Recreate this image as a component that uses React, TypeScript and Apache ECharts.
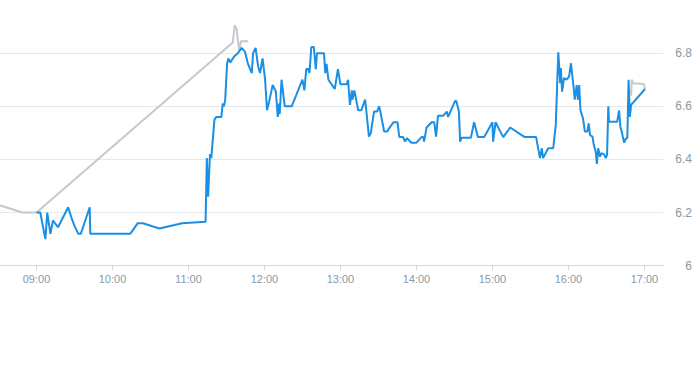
import React, { useEffect, useRef } from "react";
import * as echarts from "echarts";

// Times (HH:MM or HH:MM:SS) and prices of the intraday line
const priceTimes = [
  "09:00", "09:03", "09:07", "09:08:30", "09:11", "09:13", "09:17", "09:25", "09:28", "09:30",
  "09:33", "09:35", "09:42", "09:42:30", "10:14", "10:20", "10:24", "10:37", "10:55", "11:13:30",
  "11:14:30", "11:15:30", "11:17", "11:18", "11:20:30", "11:22", "11:26", "11:27", "11:28", "11:29",
  "11:30:30", "11:31:30", "11:33", "11:36", "11:39", "11:42", "11:44:30", "11:47", "11:50", "11:51",
  "11:53", "11:55", "11:56:30", "11:58:30", "12:00:30", "12:02", "12:04", "12:06:30", "12:09", "12:10:30",
  "12:11:30", "12:12", "12:13:30", "12:16", "12:21:30", "12:30", "12:31:30", "12:33", "12:34:30", "12:35:30",
  "12:37", "12:39", "12:40:30", "12:41:30", "12:47", "12:48", "12:49", "12:50:30", "12:55:30", "12:58",
  "13:00", "13:05", "13:06", "13:07:30", "13:09", "13:09:30", "13:11", "13:14", "13:16:30", "13:19:30",
  "13:22:30", "13:24", "13:26:30", "13:29", "13:30:30", "13:31:30", "13:34:30", "13:37", "13:38:30", "13:42",
  "13:45", "13:46:30", "13:49:30", "13:51", "13:52:30", "13:56", "14:00", "14:04", "14:05:30", "14:06",
  "14:08", "14:12", "14:14", "14:15:30", "14:17", "14:21", "14:24", "14:25", "14:28", "14:30:30",
  "14:31:30", "14:33:30", "14:34:30", "14:35:30", "14:43", "14:45:30", "14:48:30", "14:53:30", "15:00", "15:00:30",
  "15:02:30", "15:08:30", "15:14", "15:25:30", "15:34:30", "15:37:30", "15:39", "15:40", "15:44", "15:48",
  "15:50", "15:52", "15:53:30", "15:54", "15:55", "15:56:30", "15:58:30", "16:00:30", "16:02", "16:04",
  "16:05", "16:06:30", "16:07:30", "16:08:30", "16:09:30", "16:11:30", "16:13", "16:15", "16:16", "16:17",
  "16:19", "16:20", "16:21:30", "16:22:30", "16:23:30", "16:25", "16:26", "16:28", "16:29:30", "16:30:30",
  "16:31:30", "16:32", "16:38:30", "16:40", "16:41", "16:42", "16:44", "16:45:30", "16:46:30", "16:47:30",
  "16:48:30", "16:49:30", "17:00:30",
];
const priceValues = [
  6.20, 6.20, 6.10, 6.20, 6.12, 6.17, 6.145, 6.22, 6.175, 6.15,
  6.12, 6.12, 6.22, 6.12, 6.12, 6.16, 6.16, 6.14, 6.16, 6.165,
  6.405, 6.26, 6.42, 6.405, 6.55, 6.56, 6.56, 6.61, 6.60, 6.625,
  6.76, 6.78, 6.765, 6.787, 6.80, 6.82, 6.806, 6.76, 6.725, 6.80,
  6.82, 6.75, 6.725, 6.78, 6.70, 6.585, 6.625, 6.68, 6.655, 6.56,
  6.61, 6.57, 6.70, 6.60, 6.60, 6.70, 6.66, 6.74, 6.74, 6.725,
  6.823, 6.823, 6.74, 6.80, 6.80, 6.725, 6.76, 6.70, 6.665, 6.74,
  6.683, 6.683, 6.70, 6.605, 6.66, 6.625, 6.66, 6.585, 6.585, 6.625,
  6.486, 6.50, 6.58, 6.58, 6.60, 6.58, 6.505, 6.505, 6.518, 6.54,
  6.54, 6.484, 6.484, 6.467, 6.48, 6.463, 6.463, 6.484, 6.484, 6.467,
  6.52, 6.54, 6.54, 6.486, 6.564, 6.564, 6.58, 6.56, 6.593, 6.62,
  6.62, 6.58, 6.467, 6.482, 6.482, 6.54, 6.484, 6.484, 6.54, 6.467,
  6.54, 6.484, 6.52, 6.484, 6.484, 6.405, 6.442, 6.405, 6.442, 6.442,
  6.53, 6.803, 6.687, 6.744, 6.655, 6.706, 6.70, 6.712, 6.762, 6.675,
  6.625, 6.68, 6.625, 6.68, 6.585, 6.555, 6.505, 6.505, 6.536, 6.492,
  6.486, 6.455, 6.43, 6.383, 6.442, 6.41, 6.423, 6.42, 6.405, 6.417,
  6.60, 6.542, 6.542, 6.584, 6.524, 6.505, 6.463, 6.48, 6.48, 6.70,
  6.56, 6.605, 6.665,
];

// Grey line: before the open and after the close
const preTimes = ["08:28", "08:49", "09:00", "11:35", "11:36:30", "11:38", "11:40", "11:41:30", "11:47"];
const preValues = [6.232, 6.20, 6.20, 6.84, 6.905, 6.89, 6.81, 6.845, 6.845];
const postTimes = ["16:49:30", "16:50", "16:51", "16:59:30", "17:00:30"];
const postValues = [6.64, 6.70, 6.687, 6.684, 6.665];

const yTicks = [6, 6.2, 6.4, 6.6, 6.8, 7];

const toMin = (s: string) => {
  const p = s.split(":").map(Number);
  return p[0] * 60 + p[1] + (p[2] || 0) / 60;
};
const pad = (n: number) => (n < 10 ? "0" + n : "" + n);
const pairs = (ts: string[], vs: number[]) => ts.map((t, i) => [toMin(t), vs[i]]);

export default function App() {
  const ref = useRef<HTMLDivElement>(null);
  useEffect(() => {
    if (!ref.current) return;
    document.body.style.margin = "0";
    const chart = echarts.init(ref.current, null, { renderer: "svg" });
    const font = "'Liberation Sans', Arial, sans-serif";
    chart.setOption({
      animation: false,
      grid: {
        left: -39.5,
        right: 30,
        top: 0,
        bottom: 99.3,
        containLabel: false,
        outerBoundsMode: "none",
      },
      xAxis: {
        type: "value",
        min: 480,
        max: 1034.67,
        interval: 60,
        axisLine: { show: true, lineStyle: { color: "#d3d8de", width: 1 } },
        axisTick: { show: true, length: 5, lineStyle: { color: "#d3d8de" } },
        splitLine: { show: false },
        axisLabel: {
          color: "#8c97a4",
          fontSize: 11,
          fontFamily: font,
          margin: 8,
          showMinLabel: false,
          showMaxLabel: false,
          hideOverlap: false,
          formatter: (v: number) => pad(Math.floor(v / 60)) + ":" + pad(Math.round(v % 60)),
        },
      },
      yAxis: {
        type: "value",
        position: "right",
        min: yTicks[0],
        max: yTicks[yTicks.length - 1],
        interval: 0.2,
        axisLine: { show: false },
        axisTick: { show: false },
        splitLine: { show: true, showMaxLine: false, lineStyle: { color: "#e4e7eb", width: 1 } },
        axisLabel: {
          color: "#8c97a4",
          fontSize: 12,
          fontFamily: font,
          align: "right",
          margin: 29,
          showMaxLabel: false,
          formatter: (v: number) => String(Math.round(v * 10) / 10),
        },
      },
      series: [
        {
          type: "line",
          data: pairs(preTimes, preValues),
          showSymbol: false,
          symbol: "none",
          lineStyle: { color: "#c3c9cf", width: 2 },
          clip: true,
          z: 1,
        },
        {
          type: "line",
          data: pairs(postTimes, postValues),
          showSymbol: false,
          symbol: "none",
          lineStyle: { color: "#c3c9cf", width: 2 },
          clip: true,
          z: 1,
        },
        {
          type: "line",
          data: pairs(priceTimes, priceValues),
          showSymbol: false,
          symbol: "none",
          lineStyle: { color: "#1a8fe3", width: 2 },
          clip: true,
          z: 2,
        },
      ],
    });
    return () => chart.dispose();
  }, []);
  return <div ref={ref} style={{ width: 693, height: 365 }} />;
}
